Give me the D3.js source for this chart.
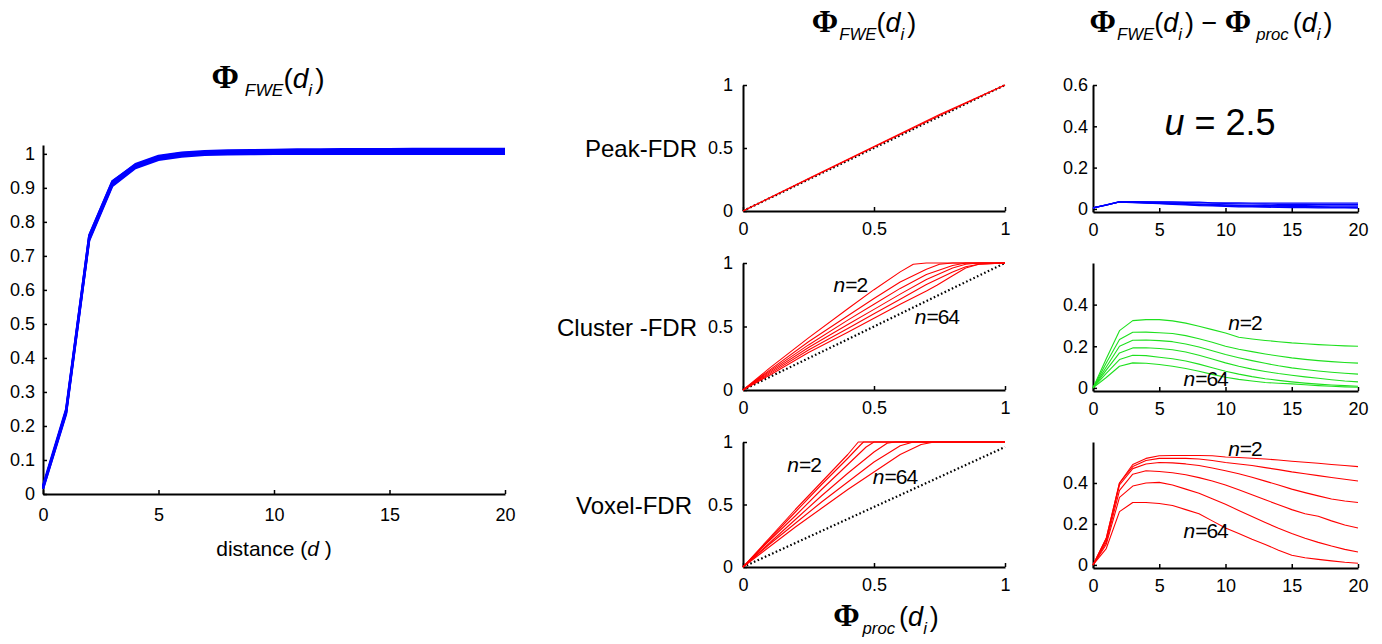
<!DOCTYPE html>
<html><head><meta charset="utf-8">
<script src="https://cdn.jsdelivr.net/npm/d3@7"></script>
<style>
body{margin:0;background:#fff}
svg{display:block}
text{font-family:"Liberation Sans",Arial,Helvetica,sans-serif;fill:#000}
</style>
</head><body>
<svg id="chart" width="1382" height="644"></svg>
<script>
// ---------------- DATA ----------------
const distances = [0,1,2,3,4,5,6,7,8,9,10,11,12,13,14,15,16,17,18,19,20];
const nLabels = ["n=2","n=4","n=8","n=16","n=32","n=64"];
const rowNames = ["Peak-FDR","Cluster -FDR","Voxel-FDR"];

// Left panel: Phi_FWE(d_i) curves
const fweA = [0.015,0.235,0.745,0.905,0.958,0.982,0.992,0.997,0.998,0.999,1.000,1.000,1.000,1.000,1.000,1.000,1.000,1.000,1.000,1.000,1.000];
const fweB = [0.020,0.240,0.750,0.910,0.962,0.986,0.996,1.000,1.002,1.003,1.004,1.004,1.005,1.005,1.005,1.005,1.005,1.005,1.005,1.005,1.005];
const fweC = [0.020,0.245,0.755,0.915,0.965,0.990,0.999,1.003,1.005,1.006,1.007,1.008,1.008,1.008,1.008,1.008,1.009,1.009,1.009,1.009,1.009];
const fweD = [0.025,0.250,0.760,0.920,0.968,0.992,1.002,1.006,1.008,1.009,1.010,1.011,1.011,1.012,1.012,1.012,1.012,1.012,1.012,1.012,1.012];
const fweE = [0.020,0.245,0.760,0.918,0.970,0.994,1.004,1.008,1.010,1.011,1.012,1.013,1.013,1.014,1.014,1.014,1.015,1.015,1.015,1.015,1.015];
const fweF = [0.015,0.238,0.748,0.908,0.960,0.985,0.995,1.000,1.003,1.001,1.000,1.003,1.006,1.008,1.010,1.011,1.012,1.012,1.012,1.012,1.012];

// Middle column: Phi_FWE vs Phi_proc  ([Phi_proc, Phi_FWE] pairs)
const peakPairs1 = [[0,0],[0.25,0.258],[0.5,0.512],[0.75,0.765],[1,1]];
const peakPairs2 = [[0,0],[0.25,0.254],[0.5,0.507],[0.75,0.757],[1,1]];
const identityLine = [[0,0],[1,1]];
const voxelRefLine = [[0,0],[1,0.96]];

const clusterN2  = [[0,0],[0.1,0.17],[0.25,0.41],[0.4,0.64],[0.5,0.79],[0.6,0.93],[0.65,0.99],[0.7,1],[1,1]];
const clusterN4  = [[0,0],[0.1,0.155],[0.25,0.38],[0.4,0.585],[0.5,0.72],[0.6,0.85],[0.7,0.95],[0.75,0.99],[0.8,1],[1,1]];
const clusterN8  = [[0,0],[0.1,0.145],[0.25,0.355],[0.4,0.55],[0.5,0.675],[0.6,0.8],[0.7,0.91],[0.8,0.98],[0.85,1],[1,1]];
const clusterN16 = [[0,0],[0.1,0.135],[0.25,0.335],[0.4,0.515],[0.5,0.635],[0.6,0.755],[0.7,0.87],[0.8,0.96],[0.85,0.99],[0.9,1],[1,1]];
const clusterN32 = [[0,0],[0.1,0.125],[0.25,0.315],[0.4,0.485],[0.5,0.6],[0.6,0.715],[0.7,0.83],[0.8,0.93],[0.85,0.97],[0.9,0.99],[1,1]];
const clusterN64 = [[0,0],[0.1,0.115],[0.25,0.295],[0.4,0.455],[0.5,0.565],[0.6,0.675],[0.7,0.78],[0.74,0.825],[0.8,0.9],[0.85,0.96],[0.9,0.99],[1,1]];

const voxelN2  = [[0,0],[0.1,0.23],[0.2,0.46],[0.3,0.68],[0.4,0.9],[0.44,1],[1,1]];
const voxelN4  = [[0,0],[0.1,0.22],[0.2,0.44],[0.3,0.66],[0.4,0.87],[0.45,0.98],[0.46,1],[1,1]];
const voxelN8  = [[0,0],[0.1,0.21],[0.2,0.41],[0.3,0.62],[0.4,0.82],[0.45,0.92],[0.47,0.96],[0.5,1],[1,1]];
const voxelN16 = [[0,0],[0.1,0.19],[0.2,0.38],[0.3,0.57],[0.4,0.75],[0.5,0.92],[0.55,0.99],[0.58,1],[1,1]];
const voxelN32 = [[0,0],[0.1,0.18],[0.2,0.35],[0.3,0.52],[0.4,0.68],[0.5,0.84],[0.6,0.97],[0.65,1],[1,1]];
const voxelN64 = [[0,0],[0.1,0.16],[0.2,0.32],[0.3,0.47],[0.4,0.62],[0.5,0.76],[0.6,0.9],[0.68,0.98],[0.73,1],[1,1]];

// Right column: Phi_FWE - Phi_proc vs distance
const peakDiff1 = [0.005,0.020,0.036,0.036,0.035,0.034,0.034,0.033,0.033,0.030,0.029,0.029,0.028,0.028,0.028,0.028,0.028,0.028,0.028,0.028,0.028];
const peakDiff2 = [0.005,0.020,0.035,0.035,0.034,0.033,0.032,0.031,0.030,0.028,0.026,0.025,0.024,0.023,0.022,0.022,0.022,0.021,0.021,0.021,0.021];
const peakDiff3 = [0.005,0.019,0.034,0.033,0.032,0.030,0.028,0.026,0.024,0.022,0.020,0.019,0.018,0.017,0.016,0.016,0.016,0.015,0.015,0.015,0.015];
const peakDiff4 = [0.005,0.019,0.034,0.032,0.030,0.028,0.026,0.024,0.022,0.020,0.018,0.016,0.015,0.014,0.013,0.012,0.011,0.011,0.010,0.010,0.010];
const peakDiff5 = [0.005,0.018,0.033,0.031,0.029,0.027,0.024,0.022,0.019,0.017,0.015,0.013,0.012,0.011,0.010,0.009,0.008,0.008,0.007,0.007,0.007];
const peakDiff6 = [0.005,0.018,0.033,0.030,0.028,0.025,0.022,0.019,0.016,0.014,0.012,0.010,0.009,0.008,0.007,0.006,0.006,0.005,0.005,0.005,0.004];

const clusterDiffN2  = [0,0.140,0.275,0.323,0.328,0.328,0.322,0.311,0.296,0.280,0.264,0.243,0.235,0.228,0.222,0.216,0.212,0.208,0.205,0.202,0.200];
const clusterDiffN4  = [0,0.120,0.232,0.267,0.268,0.265,0.261,0.251,0.236,0.219,0.200,0.186,0.174,0.163,0.153,0.144,0.137,0.131,0.126,0.122,0.119];
const clusterDiffN8  = [0,0.100,0.200,0.229,0.230,0.227,0.222,0.211,0.196,0.178,0.160,0.145,0.131,0.118,0.106,0.096,0.088,0.081,0.075,0.070,0.066];
const clusterDiffN16 = [0,0.085,0.168,0.192,0.193,0.189,0.183,0.172,0.157,0.139,0.120,0.104,0.090,0.079,0.069,0.061,0.053,0.046,0.039,0.033,0.029];
const clusterDiffN32 = [0,0.070,0.136,0.157,0.155,0.147,0.140,0.129,0.114,0.097,0.080,0.066,0.054,0.044,0.036,0.029,0.023,0.018,0.014,0.011,0.008];
const clusterDiffN64 = [0,0.050,0.104,0.120,0.118,0.112,0.104,0.093,0.080,0.065,0.051,0.041,0.033,0.026,0.022,0.019,0.015,0.011,0.008,0.005,0.003];

const voxelDiffN2  = [0,0.13,0.40,0.49,0.52,0.533,0.534,0.534,0.534,0.533,0.527,0.524,0.521,0.517,0.512,0.506,0.501,0.496,0.490,0.485,0.480];
const voxelDiffN4  = [0,0.13,0.40,0.48,0.51,0.520,0.521,0.520,0.517,0.510,0.500,0.493,0.485,0.475,0.465,0.454,0.445,0.436,0.427,0.418,0.410];
const voxelDiffN8  = [0,0.12,0.39,0.47,0.493,0.500,0.498,0.493,0.485,0.473,0.460,0.445,0.428,0.409,0.390,0.370,0.353,0.337,0.322,0.312,0.305];
const voxelDiffN16 = [0,0.11,0.364,0.443,0.460,0.456,0.450,0.440,0.426,0.410,0.390,0.367,0.343,0.318,0.294,0.270,0.250,0.238,0.215,0.195,0.180];
const voxelDiffN32 = [0,0.10,0.33,0.385,0.400,0.403,0.390,0.370,0.350,0.323,0.296,0.266,0.236,0.207,0.179,0.153,0.130,0.110,0.092,0.076,0.063];
const voxelDiffN64 = [0,0.08,0.26,0.305,0.305,0.300,0.290,0.270,0.250,0.215,0.180,0.153,0.125,0.100,0.072,0.047,0.035,0.027,0.020,0.013,0.008];

const leftYTicks = [0,0.1,0.2,0.3,0.4,0.5,0.6,0.7,0.8,0.9,1];
const distTicks = [0,5,10,15,20];
const probTicks = [0,0.5,1];
const diffTicksTop = [0,0.2,0.4,0.6];
const diffTicks = [0,0.2,0.4];

// ---------------- DRAWING ----------------
const svg = d3.select("#chart");
const FONT = '"Liberation Sans",Arial,Helvetica,sans-serif';
const fmt = d => d3.format("")(+d.toFixed(2));

function axes(xS, yS, xT, yT, opt) {
  const gx = svg.append("g").attr("transform", `translate(0,${yS.range()[0]})`)
    .call(d3.axisBottom(xS).tickValues(xT).tickSizeInner(-4).tickSizeOuter(0).tickPadding(opt.xPad).tickFormat(fmt));
  const gy = svg.append("g").attr("transform", `translate(${xS.range()[0]},0)`)
    .call(d3.axisLeft(yS).tickValues(yT).tickSizeInner(-4).tickSizeOuter(0).tickPadding(opt.yPad).tickFormat(fmt));
  [gx, gy].forEach(g => {
    g.select(".domain").attr("stroke", "#000").attr("stroke-width", 2);
    g.selectAll(".tick line").attr("stroke", "#000").attr("stroke-width", 1.5);
    g.selectAll(".tick text").attr("font-size", opt.fs || 18).attr("font-family", FONT).attr("fill", "#000");
  });
}

function drawSeries(xS, yS, series, color, width, xs) {
  const line = xs
    ? d3.line().x((d, i) => xS(xs[i])).y(d => yS(d))
    : d3.line().x(d => xS(d[0])).y(d => yS(d[1]));
  svg.append("g").selectAll("path").data(series).join("path")
    .attr("d", line).attr("fill", "none").attr("stroke", color)
    .attr("stroke-width", width).attr("stroke-linejoin", "round");
}

function dotted(xS, yS, pts) {
  svg.append("path").attr("d", d3.line().x(d => xS(d[0])).y(d => yS(d[1]))(pts))
    .attr("fill", "none").attr("stroke", "#000").attr("stroke-width", 2.2)
    .attr("stroke-dasharray", "1.6,2.4");
}

// formula text: parts of {t, k}: k = phi | sub | n | it
function formula(x, y, parts, size, anchor) {
  const t = svg.append("text").attr("x", x).attr("y", y).attr("text-anchor", anchor || "middle")
    .attr("font-size", size);
  let off = 0;
  parts.forEach(p => {
    const s = t.append("tspan").text(p.t);
    const target = p.k === "sub" ? Math.round(size * 0.3) : 0;
    s.attr("dy", target - off); off = target;
    if (p.dx) s.attr("dx", p.dx);
    if (p.k === "phi") s.attr("font-family", '"Liberation Serif","Times New Roman",serif').attr("font-weight", "bold").attr("font-size", size * 1.18);
    else if (p.k === "sub") s.attr("font-style", "italic").attr("font-size", size * 0.62);
    else if (p.k === "it") s.attr("font-style", "italic");
  });
  return t;
}

function nLabel(x, y, txt, size) {
  const t = svg.append("text").attr("x", x).attr("y", y).attr("text-anchor", "middle").attr("font-size", size || 21);
  t.append("tspan").attr("font-style", "italic").text("n");
  t.append("tspan").attr("letter-spacing", "-1").text(txt.slice(1));
}

// ---- Left panel ----
const xL = d3.scaleLinear().domain([0, 20]).range([43, 505]);
const yL = d3.scaleLinear().domain([0, 1.026]).range([494, 145]);
axes(xL, yL, distTicks, leftYTicks, {xPad: 14, yPad: 8});
drawSeries(xL, yL, [fweA, fweB, fweC, fweD, fweE, fweF], "#0000ff", 2.2, distances);
formula(268, 88, [{t:"Φ",k:"phi"},{t:"FWE",k:"sub",dx:6},{t:"(",k:"n"},{t:"d",k:"it"},{t:"i",k:"sub"},{t:")",k:"n",dx:3}], 28);
const dl = svg.append("text").attr("x", 274).attr("y", 556).attr("text-anchor", "middle").attr("font-size", 21);
dl.append("tspan").text("distance (");
dl.append("tspan").attr("font-style", "italic").text("d");
dl.append("tspan").text(" )");

// ---- Middle + right columns ----
const rowAxisY = [211, 390, 567];
const rowTopY = [85, 263, 442];
const xM = d3.scaleLinear().domain([0, 1]).range([743, 1005]);
const xR = d3.scaleLinear().domain([0, 20]).range([1093, 1358]);
const yMs = rowAxisY.map((b, i) => d3.scaleLinear().domain([0, 1]).range([b, rowTopY[i]]));
const yRs = rowAxisY.map((b, i) => d3.scaleLinear().domain([-0.015, 0.6]).range([b + 1, rowTopY[i]]));

const midSeries = [
  [peakPairs1, peakPairs2],
  [clusterN2, clusterN4, clusterN8, clusterN16, clusterN32, clusterN64],
  [voxelN2, voxelN4, voxelN8, voxelN16, voxelN32, voxelN64]
];
const midRef = [identityLine, identityLine, voxelRefLine];
const rightSeries = [
  [peakDiff1, peakDiff2, peakDiff3, peakDiff4, peakDiff5, peakDiff6],
  [clusterDiffN2, clusterDiffN4, clusterDiffN8, clusterDiffN16, clusterDiffN32, clusterDiffN64],
  [voxelDiffN2, voxelDiffN4, voxelDiffN8, voxelDiffN16, voxelDiffN32, voxelDiffN64]
];
const rightColors = ["#0000ff", "#1ee01e", "#ff0000"];
const rowLabelX = [697, 697, 692];

rowNames.forEach((name, i) => {
  axes(xM, yMs[i], probTicks, probTicks, {xPad: 11, yPad: 10});
  dotted(xM, yMs[i], midRef[i]);
  drawSeries(xM, yMs[i], midSeries[i], "#ff0000", 1.1);
  axes(xR, yRs[i], distTicks, i === 0 ? diffTicksTop : diffTicks, {xPad: 11, yPad: 5});
  drawSeries(xR, yRs[i], rightSeries[i], rightColors[i], 1.1, distances);
  svg.append("text").attr("x", rowLabelX[i]).attr("y", (rowAxisY[i] + rowTopY[i]) / 2 + 9)
    .attr("text-anchor", "end").attr("font-size", 24).text(name);
});

// annotations
nLabel(xM(0.41), yMs[1](0.77), nLabels[0]);
nLabel(xM(0.74), yMs[1](0.52), nLabels[5]);
nLabel(xM(0.233), yMs[2](0.76), nLabels[0]);
nLabel(xM(0.58), yMs[2](0.664), nLabels[5]);
nLabel(xR(11.47), yRs[1](0.28), nLabels[0]);
nLabel(xR(8.5), yRs[1](0.01), nLabels[5]);
nLabel(xR(11.47), yRs[2](0.53), nLabels[0]);
nLabel(xR(8.5), yRs[2](0.13), nLabels[5]);

// u = 2.5
const ut = svg.append("text").attr("x", 1220).attr("y", 135).attr("text-anchor", "middle").attr("font-size", 36);
ut.append("tspan").attr("font-style", "italic").text("u");
ut.append("tspan").text(" = 2.5");

// column titles
formula(864, 32, [{t:"Φ",k:"phi"},{t:"FWE",k:"sub",dx:1},{t:"(",k:"n"},{t:"d",k:"it"},{t:"i",k:"sub"},{t:")",k:"n",dx:3}], 27);
formula(1211, 32, [{t:"Φ",k:"phi"},{t:"FWE",k:"sub",dx:1},{t:"(",k:"n"},{t:"d",k:"it"},{t:"i",k:"sub"},{t:")",k:"n",dx:3},
  {t:" − ",k:"n"},{t:"Φ",k:"phi"},{t:"proc",k:"sub",dx:5},{t:"(",k:"n",dx:4},{t:"d",k:"it"},{t:"i",k:"sub"},{t:")",k:"n",dx:3}], 27);
formula(886, 626, [{t:"Φ",k:"phi"},{t:"proc",k:"sub",dx:3},{t:"(",k:"n",dx:4},{t:"d",k:"it"},{t:"i",k:"sub"},{t:")",k:"n",dx:3}], 27);
</script>
</body></html>
